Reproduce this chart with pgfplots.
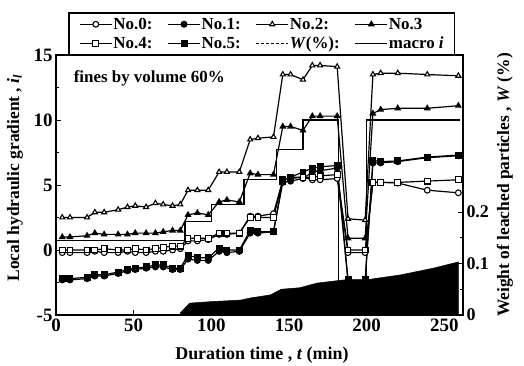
\documentclass[border=0pt]{standalone}
\usepackage{fontspec}
\setmainfont{Liberation Serif}
\usepackage{pgfplots}
\pgfplotsset{compat=1.18}
\begin{document}
\begin{tikzpicture}
\useasboundingbox (0,0) rectangle (524bp,366bp);
% ---------- right axis: weight of leached particles ----------
\begin{axis}[
  at={(56bp,51bp)}, anchor=south west, scale only axis,
  width=407bp, height=260bp,
  xmin=0, xmax=262, ymin=0, ymax=0.505,
  axis y line*=right, axis x line=none,
  ytick={0,0.1,0.2}, minor ytick={0.05,0.15},
  tick align=inside, major tick length=5bp, minor tick length=3bp,
  /pgf/number format/assume math mode=true,
  yticklabel style={font=\fontsize{18}{18}\selectfont\bfseries, xshift=0bp},
  axis line style={line width=1.3pt},
  every tick/.style={black, line width=1pt},
  ylabel={\fontsize{17.5}{17.5}\selectfont\bfseries Weight of leached particles , \textit{W} (\%)},
  ylabel style={at={(rel axis cs:1.103,0.5)}, anchor=center},
]
\addplot[fill=black, draw=black, line width=0.5pt] coordinates {
(80,0.004) (86,0.023) (100,0.026) (119,0.029) (125,0.033) (138,0.039)
(145,0.050) (157,0.053) (168,0.062) (185,0.068) (199,0.068) (222,0.078)
(243,0.091) (259,0.103)} \closedcycle;
\end{axis}
% ---------- main axis: local hydraulic gradient ----------
\begin{axis}[
  at={(56bp,51bp)}, anchor=south west, scale only axis,
  width=407bp, height=260bp,
  xmin=0, xmax=262, ymin=-5, ymax=15,
  xtick={0,50,100,150,200,250}, ytick={-5,0,5,10,15},
  minor ytick={-2.5,2.5,7.5,12.5},
  xtick pos=bottom, ytick pos=left,
  tick align=inside, major tick length=5bp, minor tick length=3bp,
  /pgf/number format/assume math mode=true,
  ticklabel style={font=\fontsize{19}{19}\selectfont\bfseries},
  axis line style={line width=1.3pt},
  every tick/.style={black, line width=1pt},
  xlabel={\fontsize{18}{18}\selectfont\bfseries Duration time , \textit{t} (min)},
  xlabel style={at={(rel axis cs:0.506,-0.154)}, anchor=center},
  ylabel={\fontsize{17.5}{17.5}\selectfont\bfseries Local hydraulic gradient , \textit{i}\textsubscript{\textit{l}}},
  ylabel style={at={(rel axis cs:-0.101,0.527)}, anchor=center},
  legend columns=4,
  legend style={at={(0.506,1.165)}, anchor=north, draw=black, line width=1.6pt,
    font=\fontsize{17}{17}\selectfont\bfseries, inner xsep=10bp, inner ysep=3bp,
    nodes={inner xsep=1bp},
    column sep=0pt, row sep=2bp,
    /tikz/every odd column/.append style={column sep=0bp},
    /tikz/every even column/.append style={column sep=14bp}},
  legend cell align=left,
  legend image code/.code={\draw[mark repeat=2, mark phase=2, line width=1.2pt, #1]
     plot coordinates {(0bp,0bp) (16bp,0bp) (32bp,0bp)};},
  mark size=2.9pt,
  every axis plot/.append style={line width=1.2pt},
]
% No.0
\addplot[black, mark=*, mark options={fill=white, line width=1.1pt}] coordinates {
(4,-0.2) (9,-0.2) (20,-0.2) (25,-0.1) (31,-0.2) (40,-0.2) (46,-0.1) (51,-0.2) (58,-0.2) (64,-0.1) (69,-0.1) (75,0.0) (80,0.1)
(85,0.7) (91,0.7) (98,0.8)
(105,1.2) (110,1.2) (118,1.3)
(125,2.6) (130,2.6) (140,2.8)
(146,5.4) (151,5.5) (159,5.6)
(165,5.4) (170,5.4) (181,5.5)
(188,-0.2) (199,-0.2)
(204,5.2) (209,5.2) (220,5.15) (239,4.6) (259,4.4)};
\addlegendentry{No.0:}
% No.1
\addplot[black, mark=*, mark options={fill=black}] coordinates {
(4,-2.3) (9,-2.3) (20,-2.2) (25,-2.0) (31,-2.0) (40,-1.8) (46,-1.6) (51,-1.5) (58,-1.4) (64,-1.3) (69,-1.3) (75,-1.5) (80,-1.5)
(85,-0.7) (91,-0.8) (98,-0.8)
(105,-0.1) (110,-0.2) (118,-0.1)
(125,1.3) (130,1.3) (140,1.4)
(146,5.2) (151,5.3) (159,5.5)
(165,6.0) (170,6.1) (181,6.3)
(188,-2.5) (199,-2.5)
(204,6.7) (209,6.7) (220,6.8) (239,7.1) (259,7.25)};
\addlegendentry{No.1:}
% No.2
\addplot[black, mark=triangle*, mark options={fill=white, line width=1.1pt}] coordinates {
(4,2.5) (9,2.5) (20,2.5) (25,2.9) (31,2.9) (40,3.1) (46,3.3) (51,3.4) (58,3.3) (64,3.6) (69,3.5) (75,3.4) (80,3.5)
(85,4.6) (91,4.6) (98,4.6)
(105,6.0) (110,6.0) (118,6.0)
(125,8.5) (130,8.6) (140,8.7)
(146,13.5) (151,13.5) (159,13.1)
(165,14.2) (170,14.2) (181,14.1)
(188,2.4) (199,2.3)
(204,13.5) (209,13.6) (220,13.6) (239,13.5) (259,13.4)};
\addlegendentry{No.2:}
% No.3
\addplot[black, mark=triangle*, mark options={fill=black}] coordinates {
(4,1.0) (9,1.0) (20,1.1) (25,1.3) (31,1.2) (40,1.2) (46,1.2) (51,1.3) (58,1.3) (64,1.3) (69,1.4) (75,1.5) (80,1.5)
(85,2.7) (91,2.85) (98,2.7)
(105,3.7) (110,3.85) (118,3.7)
(125,5.9) (130,5.8) (140,5.8)
(146,9.5) (151,9.5) (159,9.2)
(165,10.3) (170,10.3) (181,10.3)
(188,0.9) (199,0.9)
(204,10.5) (209,10.8) (220,10.9) (239,10.9) (259,11.1)};
\addlegendentry{No.3}
% No.4
\addplot[black, mark=square*, mark options={fill=white, line width=1.1pt}] coordinates {
(4,0.0) (9,0.0) (20,0.0) (25,0.0) (31,0.1) (40,0.0) (46,0.0) (51,0.1) (58,0.0) (64,0.1) (69,0.2) (75,0.3) (80,0.3)
(85,0.9) (91,0.9) (98,0.9)
(105,1.3) (110,1.3) (118,1.3)
(125,2.5) (130,2.5) (140,2.5)
(146,5.3) (151,5.6) (159,5.6)
(165,5.6) (170,5.7) (181,5.8)
(188,0.0) (199,0.0)
(204,5.2) (209,5.2) (220,5.2) (239,5.3) (259,5.4)};
\addlegendentry{No.4:}
% No.5
\addplot[black, mark=square*, mark options={fill=black}] coordinates {
(4,-2.2) (9,-2.2) (20,-2.1) (25,-1.9) (31,-1.9) (40,-1.7) (46,-1.5) (51,-1.4) (58,-1.3) (64,-1.15) (69,-1.15) (75,-1.4) (80,-1.4)
(85,-0.4) (91,-0.6) (98,-0.6)
(105,0.15) (110,0.0) (118,0.0)
(125,1.5) (130,1.4) (140,1.4)
(146,5.4) (151,5.6) (159,6.0)
(165,6.3) (170,6.4) (181,6.5)
(188,-2.3) (199,-2.3)
(204,6.9) (209,6.8) (220,6.85) (239,7.15) (259,7.3)};
\addlegendentry{No.5:}
% W legend image
\addlegendimage{black, line width=1.2pt, dash pattern=on 3bp off 2bp, mark=none}
\addlegendentry{\textit{W}(\%):}
% macro i
\addplot[black, mark=none] coordinates {
(0,0.7) (83,0.7) (83,2.2) (100,2.2) (100,3.5) (121,3.5) (121,5.4) (142,5.4)
(142,7.7) (159,7.7) (159,10.0) (182,10.0) (182,-2.4) (200,-2.4) (200,10.0) (260,10.0)};
\addlegendentry{macro \textit{i}}
\node[anchor=west, font=\fontsize{17}{17}\selectfont\bfseries] at (rel axis cs:0.035,0.91) {fines by volume 60\%};
\end{axis}
\end{tikzpicture}
\end{document}
